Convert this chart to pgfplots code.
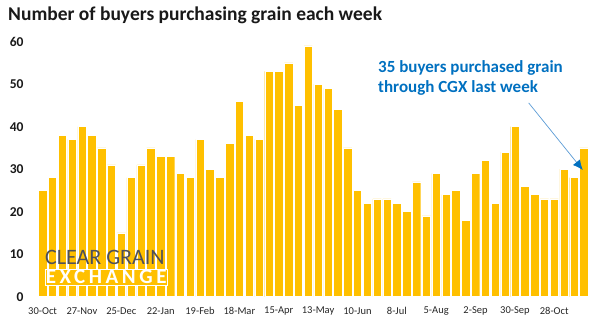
\documentclass[border=0pt]{standalone}
\usepackage{fontspec}
\setmainfont{Carlito}
\usepackage{pgfplots}
\pgfplotsset{compat=1.18}
\usetikzlibrary{arrows.meta}
\definecolor{baryellow}{HTML}{FFC000}
\definecolor{annblue}{HTML}{0070C0}
\definecolor{arrowblue}{HTML}{5B9BD5}
\definecolor{logogray}{HTML}{4F5059}
\begin{document}
\begin{tikzpicture}
\path[use as bounding box] (0pt,0pt) rectangle (602pt,328pt);
\node[anchor=west, font=\bfseries\fontsize{19.5}{22}\selectfont, text=black!90, inner sep=0pt] at (8pt,313pt) {Number of buyers purchasing grain each week};
\begin{axis}[
  at={(37.7pt,31.3pt)}, anchor=south west,
  scale only axis, width=551pt, height=255pt,
  xmin=0.5, xmax=56.5, ymin=0, ymax=60,
  axis line style={draw=none},
  major tick length=0pt,
  ytick={0,10,...,60},
  xtick={1,5,...,53},
  xticklabels={30-Oct,27-Nov,25-Dec,22-Jan,19-Feb,18-Mar,15-Apr,13-May,10-Jun,8-Jul,5-Aug,2-Sep,30-Sep,28-Oct},
  xticklabel style={font=\fontsize{10.5}{12}\selectfont, text=black!85, inner sep=0pt, anchor=center, yshift=-14.5pt},
  yticklabel style={font=\bfseries\fontsize{13.5}{15}\selectfont, text=black!90, inner sep=0pt, anchor=east, xshift=-14pt},
  /pgf/number format/assume math mode=true,
  clip=false,
]
\addplot[ybar, bar width=8.4pt, fill=baryellow, draw=white, line width=0.4pt] coordinates {
(1,25) (2,28) (3,38) (4,37) (5,40) (6,38) (7,35) (8,31) (9,15) (10,28)
(11,31) (12,35) (13,33) (14,33) (15,29) (16,28) (17,37) (18,30) (19,28) (20,36)
(21,46) (22,38) (23,37) (24,53) (25,53) (26,55) (27,45) (28,59) (29,50) (30,49)
(31,44) (32,35) (33,25) (34,22) (35,23) (36,23) (37,22) (38,20) (39,27) (40,19)
(41,29) (42,24) (43,25) (44,18) (45,29) (46,32) (47,22) (48,34) (49,40) (50,26)
(51,24) (52,23) (53,23) (54,30) (55,28) (56,35)
};
\draw[arrowblue, line width=0.7pt, -{Latex[length=10pt,width=9pt,color=annblue]}] (axis cs:50.4,45.6) -- (axis cs:55.9,29.8);
\end{axis}
\node[anchor=west, font=\bfseries\fontsize{17}{19}\selectfont, text=annblue, inner sep=0pt] at (378pt,260pt) {35 buyers purchased grain};
\node[anchor=west, font=\bfseries\fontsize{17}{19}\selectfont, text=annblue, inner sep=0pt] at (378pt,240pt) {through CGX last week};
\node[anchor=west, font=\fontsize{22}{24}\selectfont, text=logogray, inner sep=0pt] at (45pt,71pt) {CLEAR GRAIN};
\node[anchor=west, fill=baryellow, draw=white, line width=0.8pt, font=\bfseries\fontsize{21}{24}\selectfont\addfontfeature{LetterSpace=17}, text=white, inner xsep=0.5pt, inner ysep=1pt] at (45pt,51pt) {EXCHANGE};
\end{tikzpicture}
\end{document}
